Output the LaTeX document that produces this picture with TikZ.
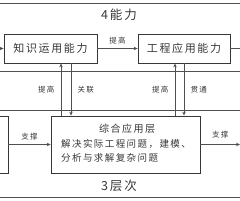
\documentclass[tikz,border=0pt]{standalone}
\usepackage{fontspec}
\setmainfont{Noto Sans CJK SC}
\newfontfamily\anchas[LetterSpace=15]{Noto Sans CJK SC}
\usetikzlibrary{arrows.meta,positioning}
\definecolor{linea}{RGB}{80,80,80}
\definecolor{texto}{RGB}{55,55,55}

\begin{document}
\begin{tikzpicture}[x=1pt,y=-1pt,>={Stealth[length=4pt,width=3.5pt]},
    caja/.style={draw=linea,line width=0.8pt,minimum height=29pt,inner sep=0pt,texto,font=\anchas\fontsize{11}{13}\selectfont},
    flecha/.style={->,linea,line width=0.7pt},
    etiq/.style={texto,font=\anchas\fontsize{7.5}{9}\selectfont}]
  \useasboundingbox (0,0) rectangle (240,200);
  \clip (0,0) rectangle (240,200);
  % marcos
  \draw[linea,line width=0.8pt] (-5,3) rectangle (245,71);
  \draw[linea,line width=0.8pt] (-5,110) rectangle (245,197);
  \node[texto,font=\anchas\fontsize{12.5}{14}\selectfont] (cuatro) at (119,15) {4能力};
  \node[texto,font=\anchas\fontsize{12.5}{14}\selectfont] (tres) at (119,186) {3层次};
  % cajas
  \node[caja,minimum width=93pt] (conoc) at (50.5,48.5) {知识运用能力};
  \node[caja,minimum width=92pt] (ingen) at (184,48.5) {工程应用能力};
  \node[caja,minimum width=149pt,minimum height=57pt] (integ) at (125.5,144.5) {};
  \node[caja,minimum width=48pt,minimum height=57pt] (base) at (-16,144.5) {};
  \node[texto,font=\anchas\fontsize{10}{12}\selectfont] (titulo) at (127,129) {综合应用层};
  \node[texto,font=\anchas\fontsize{9.5}{14}\selectfont,anchor=west,align=left,inner sep=0pt] (desc) at (61,150.5)
    {解决实际工程问题，建模、\\分析与求解复杂问题};
  \coordinate (ent) at (-5,48.5);
  \coordinate (sal) at (245,48.5);
  \coordinate (sal2) at (240,144.5);
  \coordinate (v1) at (61,0);
  \coordinate (v2) at (71,0);
  \coordinate (v3) at (175,0);
  \coordinate (v4) at (184,0);
  % conectores
  \draw[flecha] (ent) -- (conoc.west);
  \draw[linea,line width=0.7pt] (ingen.east) -- (sal);
  \draw[flecha] (conoc.east) -- node[etiq,above=1pt] {提高} (ingen.west);
  \draw[flecha] (v1 |- integ.north) -- node[etiq,left=3pt] {提高} (v1 |- conoc.south);
  \draw[flecha] (v2 |- conoc.south) -- node[etiq,right=3pt] {关联} (v2 |- integ.north);
  \draw[flecha] (v3 |- integ.north) -- node[etiq,left=3pt] {提高} (v3 |- ingen.south);
  \draw[flecha] (v4 |- ingen.south) -- node[etiq,right=3pt] {贯通} (v4 |- integ.north);
  \draw[flecha] (base.east) -- node[etiq,above=1pt] {支撑} (integ.west);
  \draw[flecha] (integ.east) -- node[etiq,above=3pt] {支撑} (sal2);
\end{tikzpicture}
\end{document}
